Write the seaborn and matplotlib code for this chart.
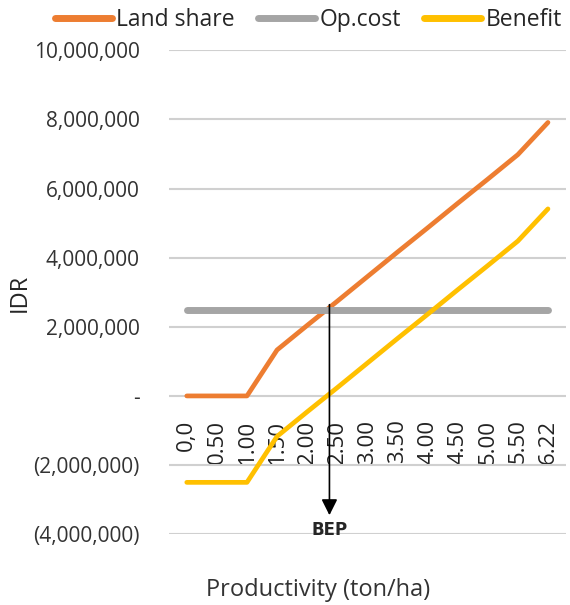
import matplotlib.pyplot as plt
import numpy as np
import pandas as pd
import seaborn as sns
from matplotlib.lines import Line2D

# categories and values
productivity = ["0,0", "0.50", "1.00", "1.50", "2.00", "2.50", "3.00",
                "3.50", "4.00", "4.50", "5.00", "5.50", "6.22"]
land_share = [0, 0, 0, 1330000, 2040000, 2740000, 3450000, 4160000,
              4860000, 5570000, 6270000, 6980000, 7910000]
op_cost = [2500000] * 13
benefit = [-2500000, -2500000, -2500000, -1170000, -460000, 240000, 950000,
           1660000, 2360000, 3070000, 3770000, 4480000, 5410000]

y_ticks = [-4000000, -2000000, 0, 2000000, 4000000, 6000000, 8000000, 10000000]
y_tick_labels = ["(4,000,000)", "(2,000,000)", "-", "2,000,000", "4,000,000",
                 "6,000,000", "8,000,000", "10,000,000"]

bep_x = 4.74        # category position of the break-even point
bep_top = 2640000
bep_tip = -3450000

series = ["Land share", "Op.cost", "Benefit"]
colors = {"Land share": "#ED7D31", "Op.cost": "#A5A5A5", "Benefit": "#FFC000"}
widths = {"Land share": 3.4, "Op.cost": 5.0, "Benefit": 3.4}

pos = np.arange(len(productivity))
df = pd.DataFrame({
    "pos": np.tile(pos, 3),
    "value": land_share + op_cost + benefit,
    "series": np.repeat(series, len(productivity)),
})

sns.set_style("white")
plt.rcParams["font.family"] = ["Open Sans", "DejaVu Sans"]

fig = plt.figure(figsize=(5.7, 6.05), dpi=100)
ax = fig.add_axes([0.296, 0.117, 0.697, 0.80])

for name in series:
    sns.lineplot(data=df[df["series"] == name], x="pos", y="value",
                 color=colors[name], lw=widths[name], ax=ax,
                 solid_capstyle="round", zorder=3)

ax.set_ylim(-4000000, 10000000)
ax.set_xlim(-0.6, len(productivity) - 0.4)
ax.set_yticks(y_ticks)
ax.set_yticklabels(y_tick_labels, fontsize=15, color="#333333")
ax.yaxis.grid(True, color="#d0d0d0", lw=1.5)
ax.tick_params(axis="y", length=0, pad=21)

# category labels sit just below the zero line
ax.spines["bottom"].set_position(("data", 0))
ax.set_xticks(pos)
ax.set_xticklabels(productivity, rotation=90, fontsize=16, color="#222222")
ax.tick_params(axis="x", length=0, pad=17)
for s in ax.spines.values():
    s.set_visible(False)

ax.set_xlabel("")
ax.set_ylabel("")
fig.text(0.035, 0.516, "IDR", rotation=90, ha="center", va="center",
         fontsize=17)
fig.text(0.558, 0.025, "Productivity (ton/ha)", ha="center", va="center",
         fontsize=17, color="#333333")

# break-even arrow
ax.annotate("", xy=(bep_x, bep_tip), xytext=(bep_x, bep_top),
            arrowprops=dict(arrowstyle="-|>", color="black", lw=1.2,
                            mutation_scale=24, shrinkA=0, shrinkB=0),
            zorder=4)
ax.text(bep_x, -4020000, "BEP", ha="center", va="baseline",
        fontsize=12, fontweight="bold", family="Liberation Sans Narrow")

handles = [Line2D([0], [0], color=colors[n], lw=5, solid_capstyle="round")
           for n in series]
fig.legend(handles, series, loc="center", bbox_to_anchor=(0.541, 0.967),
           ncol=3, frameon=False, fontsize=16.5, handlelength=2.5,
           handletextpad=0.2, columnspacing=1.0, borderpad=0)

fig.savefig("out.png", dpi=100)
